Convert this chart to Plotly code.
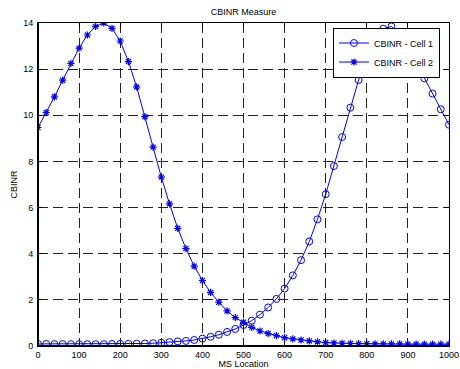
import plotly.graph_objects as go

ms_location = [0, 20, 40, 60, 80, 100, 120, 140, 160, 180, 200, 220, 240, 260, 280,
               300, 320, 340, 360, 380, 400, 420, 440, 460, 480, 500, 520, 540, 560,
               580, 600, 620, 640, 660, 680, 700, 720, 740, 760, 780, 800, 820, 840,
               860, 880, 900, 920, 940, 960, 980, 1000]

cbinr_cell1 = [0.09, 0.09, 0.08, 0.08, 0.08, 0.08, 0.08, 0.08, 0.08, 0.09, 0.09,
               0.09, 0.10, 0.11, 0.12, 0.14, 0.17, 0.20, 0.22, 0.26, 0.32, 0.40,
               0.49, 0.61, 0.74, 0.91, 1.10, 1.36, 1.67, 2.04, 2.49, 3.06, 3.72,
               4.53, 5.49, 6.58, 7.80, 9.06, 10.33, 11.53, 12.52, 13.25, 13.75,
               13.85, 13.55, 13.00, 12.29, 11.60, 10.94, 10.26, 9.59]

cbinr_cell2 = [9.47, 10.12, 10.80, 11.52, 12.25, 12.91, 13.48, 13.85, 14.00, 13.77,
               13.22, 12.33, 11.23, 9.94, 8.62, 7.32, 6.16, 5.10, 4.22, 3.46, 2.84,
               2.32, 1.90, 1.52, 1.23, 1.03, 0.81, 0.65, 0.54, 0.45, 0.36, 0.31,
               0.26, 0.22, 0.18, 0.15, 0.13, 0.12, 0.11, 0.10, 0.10, 0.09, 0.09,
               0.09, 0.09, 0.08, 0.08, 0.08, 0.08, 0.08, 0.08]

x_ticks = [0, 100, 200, 300, 400, 500, 600, 700, 800, 900, 1000]
y_ticks = [0, 2, 4, 6, 8, 10, 12, 14]

BLUE = "#0000FF"
FONT = "Liberation Sans, Arial, sans-serif"

fig = go.Figure()
fig.add_trace(go.Scatter(
    x=ms_location, y=cbinr_cell1, mode="lines+markers", name="CBINR - Cell 1",
    line=dict(color=BLUE, width=1),
    marker=dict(symbol="circle-open", size=7, color=BLUE, line=dict(width=1, color=BLUE)),
))
fig.add_trace(go.Scatter(
    x=ms_location, y=cbinr_cell2, mode="lines+markers", name="CBINR - Cell 2",
    line=dict(color=BLUE, width=1),
    marker=dict(symbol="asterisk-open", size=6, color=BLUE, line=dict(width=1.2, color=BLUE)),
))

axis_common = dict(
    showline=True, linecolor="black", linewidth=1, mirror="ticks",
    ticks="inside", ticklen=4, tickcolor="black", tickwidth=1,
    showgrid=True, gridcolor="#222222", gridwidth=1, griddash="10px,5px",
    zeroline=False, automargin=False,
    tickfont=dict(size=9, color="black", family=FONT),
)

fig.update_xaxes(range=[0, 1000], tickvals=x_ticks, ticktext=[str(v) for v in x_ticks],
                 ticklabelstandoff=0,
                 title=dict(text="MS Location", font=dict(size=9, color="black", family=FONT),
                            standoff=1),
                 **axis_common)
fig.update_yaxes(range=[0, 14], tickvals=y_ticks, ticktext=[str(v) for v in y_ticks],
                 ticklabelstandoff=2,
                 title=dict(text="CBINR", font=dict(size=9, color="black", family=FONT),
                            standoff=4),
                 **axis_common)

fig.add_shape(type="line", xref="paper", yref="paper", x0=0, x1=0, y0=0, y1=1,
              line=dict(color="black", width=2))
fig.add_shape(type="line", xref="paper", yref="paper", x0=0, x1=1, y0=0, y1=0,
              line=dict(color="black", width=2))

fig.update_layout(
    width=460, height=369,
    margin=dict(l=38, r=11, t=23, b=23),
    paper_bgcolor="white", plot_bgcolor="white",
    font=dict(family=FONT, size=9, color="black"),
    title=dict(text="CBINR Measure", x=0.5, xref="paper", xanchor="center",
               y=1 - 12 / 369, yref="container", yanchor="middle",
               font=dict(size=9, color="black", family=FONT)),
    showlegend=True,
    legend=dict(x=0.978, y=0.986, xanchor="right", yanchor="top",
                bgcolor="white", bordercolor="black", borderwidth=1,
                font=dict(size=9, color="black", family=FONT),
                tracegroupgap=0, itemwidth=30),
)

fig.write_html("out.html")
